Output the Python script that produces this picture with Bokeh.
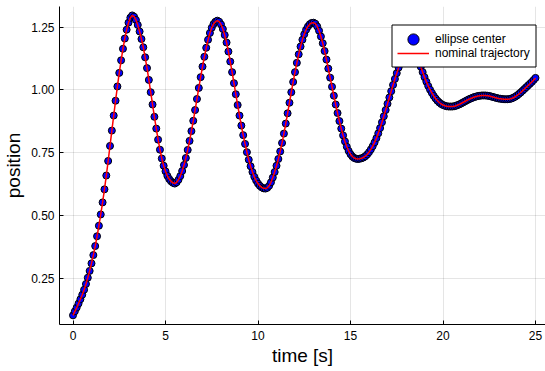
from bokeh.plotting import figure
from bokeh.models import (Range1d, FixedTicker, NumeralTickFormatter, Legend, LegendItem,
                          ColumnDataSource, CDSView, IndexFilter, BoxAnnotation)
from bokeh.embed import file_html
from bokeh.resources import INLINE

# time samples [s]
time_s = [
    0.0, 0.1, 0.2, 0.3, 0.4, 0.5, 0.6, 0.7, 0.8, 0.9,
    1.0, 1.1, 1.2, 1.3, 1.4, 1.5, 1.6, 1.7, 1.8, 1.9,
    2.0, 2.1, 2.2, 2.3, 2.4, 2.5, 2.6, 2.7, 2.8, 2.9,
    3.0, 3.1, 3.2, 3.3, 3.4, 3.5, 3.6, 3.7, 3.8, 3.9,
    4.0, 4.1, 4.2, 4.3, 4.4, 4.5, 4.6, 4.7, 4.8, 4.9,
    5.0, 5.1, 5.2, 5.3, 5.4, 5.5, 5.6, 5.7, 5.8, 5.9,
    6.0, 6.1, 6.2, 6.3, 6.4, 6.5, 6.6, 6.7, 6.8, 6.9,
    7.0, 7.1, 7.2, 7.3, 7.4, 7.5, 7.6, 7.7, 7.8, 7.9,
    8.0, 8.1, 8.2, 8.3, 8.4, 8.5, 8.6, 8.7, 8.8, 8.9,
    9.0, 9.1, 9.2, 9.3, 9.4, 9.5, 9.6, 9.7, 9.8, 9.9,
    10.0, 10.1, 10.2, 10.3, 10.4, 10.5, 10.6, 10.7, 10.8, 10.9,
    11.0, 11.1, 11.2, 11.3, 11.4, 11.5, 11.6, 11.7, 11.8, 11.9,
    12.0, 12.1, 12.2, 12.3, 12.4, 12.5, 12.6, 12.7, 12.8, 12.9,
    13.0, 13.1, 13.2, 13.3, 13.4, 13.5, 13.6, 13.7, 13.8, 13.9,
    14.0, 14.1, 14.2, 14.3, 14.4, 14.5, 14.6, 14.7, 14.8, 14.9,
    15.0, 15.1, 15.2, 15.3, 15.4, 15.5, 15.6, 15.7, 15.8, 15.9,
    16.0, 16.1, 16.2, 16.3, 16.4, 16.5, 16.6, 16.7, 16.8, 16.9,
    17.0, 17.1, 17.2, 17.3, 17.4, 17.5, 17.6, 17.7, 17.8, 17.9,
    18.0, 18.1, 18.2, 18.3, 18.4, 18.5, 18.6, 18.7, 18.8, 18.9,
    19.0, 19.1, 19.2, 19.3, 19.4, 19.5, 19.6, 19.7, 19.8, 19.9,
    20.0, 20.1, 20.2, 20.3, 20.4, 20.5, 20.6, 20.7, 20.8, 20.9,
    21.0, 21.1, 21.2, 21.3, 21.4, 21.5, 21.6, 21.7, 21.8, 21.9,
    22.0, 22.1, 22.2, 22.3, 22.4, 22.5, 22.6, 22.7, 22.8, 22.9,
    23.0, 23.1, 23.2, 23.3, 23.4, 23.5, 23.6, 23.7, 23.8, 23.9,
    24.0, 24.1, 24.2, 24.3, 24.4, 24.5, 24.6, 24.7, 24.8, 24.9,
    25.0,
]

# nominal trajectory (position)
nominal_trajectory = [
    0.102, 0.118, 0.133, 0.149, 0.166, 0.184, 0.204, 0.227, 0.252, 0.279,
    0.309, 0.342, 0.378, 0.417, 0.459, 0.504, 0.552, 0.604, 0.659, 0.717,
    0.777, 0.838, 0.898, 0.957, 1.014, 1.068, 1.118, 1.164, 1.205, 1.240,
    1.268, 1.288, 1.297, 1.292, 1.279, 1.259, 1.233, 1.203, 1.170, 1.130,
    1.087, 1.040, 0.991, 0.942, 0.893, 0.846, 0.802, 0.762, 0.727, 0.698,
    0.676, 0.658, 0.645, 0.636, 0.630, 0.627, 0.632, 0.642, 0.657, 0.677,
    0.701, 0.729, 0.761, 0.797, 0.836, 0.877, 0.920, 0.964, 1.008, 1.051,
    1.093, 1.132, 1.168, 1.200, 1.227, 1.248, 1.263, 1.272, 1.276, 1.272,
    1.261, 1.243, 1.219, 1.189, 1.153, 1.113, 1.071, 1.027, 0.983, 0.940,
    0.898, 0.858, 0.820, 0.785, 0.752, 0.722, 0.696, 0.673, 0.654, 0.639,
    0.627, 0.618, 0.612, 0.608, 0.607, 0.610, 0.618, 0.632, 0.651, 0.673,
    0.698, 0.725, 0.755, 0.789, 0.826, 0.866, 0.907, 0.949, 0.991, 1.032,
    1.071, 1.108, 1.142, 1.173, 1.200, 1.222, 1.240, 1.253, 1.262, 1.267,
    1.268, 1.264, 1.253, 1.236, 1.213, 1.186, 1.155, 1.121, 1.085, 1.049,
    1.013, 0.977, 0.942, 0.908, 0.876, 0.846, 0.819, 0.795, 0.774, 0.757,
    0.744, 0.735, 0.729, 0.726, 0.725, 0.726, 0.728, 0.731, 0.736, 0.743,
    0.752, 0.763, 0.776, 0.791, 0.808, 0.827, 0.848, 0.871, 0.895, 0.920,
    0.945, 0.970, 0.995, 1.020, 1.044, 1.067, 1.089, 1.109, 1.126, 1.140,
    1.151, 1.158, 1.161, 1.160, 1.154, 1.144, 1.130, 1.112, 1.092, 1.071,
    1.051, 1.033, 1.016, 1.001, 0.988, 0.976, 0.966, 0.957, 0.950, 0.944,
    0.940, 0.937, 0.935, 0.934, 0.934, 0.934, 0.935, 0.937, 0.940, 0.943,
    0.947, 0.951, 0.955, 0.959, 0.963, 0.966, 0.969, 0.972, 0.974, 0.976,
    0.977, 0.978, 0.978, 0.978, 0.977, 0.976, 0.974, 0.972, 0.970, 0.968,
    0.966, 0.965, 0.964, 0.963, 0.963, 0.963, 0.964, 0.966, 0.969, 0.973,
    0.978, 0.984, 0.990, 0.997, 1.004, 1.011, 1.018, 1.025, 1.032, 1.040,
    1.048,
]

# ellipse center estimates (coincide with the nominal trajectory)
ellipse_center = list(nominal_trajectory)

x_ticks = [0, 5, 10, 15, 20, 25]
y_ticks = [0.25, 0.50, 0.75, 1.00, 1.25]

FONT = "Liberation Sans"

p = figure(width=545, height=371, output_backend="svg", toolbar_location=None,
           x_range=Range1d(-0.73, 25.54), y_range=Range1d(0.0655, 1.3325),
           min_border_left=57, min_border_right=0, min_border_top=6, min_border_bottom=47)
p.outline_line_color = None
p.background_fill_color = "white"
p.border_fill_color = "white"

src = ColumnDataSource(dict(t=time_s, c=ellipse_center, n=nominal_trajectory))
dots = p.scatter("t", "c", source=src, size=7, fill_color="#0000ff",
                 line_color="black", line_width=1)
line = p.line("t", "n", source=src, line_color="#ff0000", line_width=1.5)

# legend swatch for the markers (larger, as in the reference legend); the one
# sample it uses lies under the legend box
legend_dot = p.scatter("t", "c", source=src, view=CDSView(filter=IndexFilter([182])),
                       size=11, fill_color="#0000ff", line_color="black", line_width=1)

for ax in (p.xaxis, p.yaxis):
    ax.major_tick_in = 4
    ax.major_tick_out = 0
    ax.minor_tick_in = 0
    ax.minor_tick_out = 0
    ax.axis_line_color = "black"
    ax.axis_line_width = 1
    ax.major_tick_line_color = "black"
    ax.major_label_text_font = FONT
    ax.major_label_text_font_size = "12px"
    ax.major_label_text_color = "black"
    ax.axis_label_text_font = FONT
    ax.axis_label_text_font_size = "19px"
    ax.axis_label_text_font_style = "normal"
    ax.axis_label_text_color = "black"

p.xaxis.ticker = FixedTicker(ticks=x_ticks)
p.yaxis.ticker = FixedTicker(ticks=y_ticks)
p.yaxis.formatter = NumeralTickFormatter(format="0.00")
p.xaxis.axis_label = "time [s]"
p.yaxis.axis_label = "position"
p.xaxis.major_label_standoff = 6
p.yaxis.major_label_standoff = 5
p.xaxis.axis_label_standoff = 2
p.yaxis.axis_label_standoff = 4

for g in (p.xgrid, p.ygrid):
    g.grid_line_color = "black"
    g.grid_line_alpha = 0.1
    g.grid_line_width = 1
p.xgrid.ticker = FixedTicker(ticks=x_ticks)
p.ygrid.ticker = FixedTicker(ticks=y_ticks)

# legend frame (white box with black border), drawn as an annotation
legend_box = BoxAnnotation(left=332.5, right=476.5, bottom=257.5, top=299.5,
                           left_units="screen", right_units="screen",
                           bottom_units="screen", top_units="screen",
                           fill_color="white", fill_alpha=1,
                           line_color="black", line_width=1, line_alpha=1,
                           level="annotation")
p.add_layout(legend_box)


def make_legend(item, y, glyph_h):
    lg = Legend(items=[item], location=(338, y))
    lg.label_text_font = FONT
    lg.label_text_font_size = "12px"
    lg.label_text_color = "black"
    lg.border_line_color = None
    lg.background_fill_alpha = 0
    lg.padding = 0
    lg.spacing = 0
    lg.margin = 0
    lg.glyph_width = 32
    lg.glyph_height = glyph_h
    lg.label_height = glyph_h
    lg.label_standoff = 6
    return lg


p.add_layout(make_legend(LegendItem(label="ellipse center", renderers=[legend_dot]), 271, 28), "center")
p.add_layout(make_legend(LegendItem(label="nominal trajectory", renderers=[line]), 264, 14), "center")

open("out.html", "w").write(file_html(p, INLINE))
